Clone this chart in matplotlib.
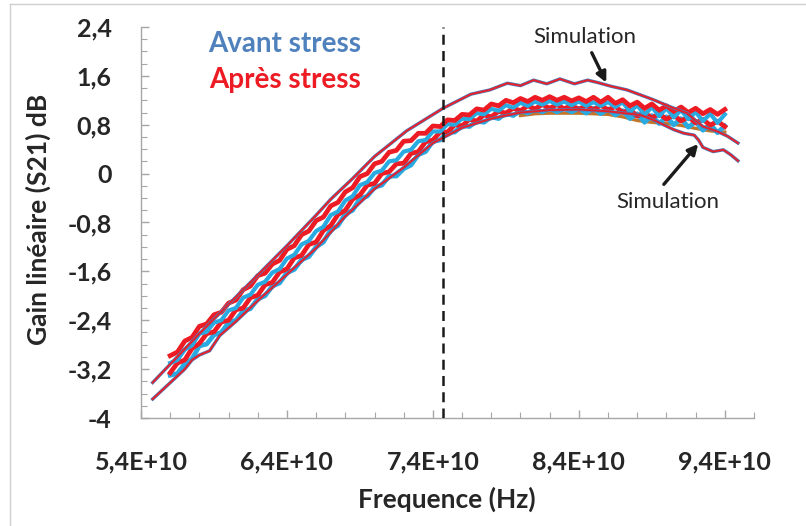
import numpy as np
import matplotlib
matplotlib.use("Agg")
import matplotlib.pyplot as plt
from matplotlib.ticker import MultipleLocator, FuncFormatter
from matplotlib.lines import Line2D

plt.rcParams['font.family'] = ['Lato', 'DejaVu Sans']

# Mesures (GHz*10 -> Hz), pas de 0.05E10
freq_mes = np.round(np.arange(5.60, 9.401, 0.05), 2) * 1e10

avant_1 = [-3.30, -3.27, -3.11, -3.03, -2.82, -2.79, -2.64, -2.60, -2.44, -2.40,
           -2.25, -2.21, -2.05, -2.00, -1.84, -1.79, -1.62, -1.57, -1.41, -1.36,
           -1.20, -1.12, -0.92, -0.85, -0.66, -0.60, -0.41, -0.37, -0.22, -0.19,
           -0.04, -0.04, 0.08, 0.14, 0.31, 0.36, 0.53, 0.55, 0.68, 0.68,
           0.79, 0.77, 0.86, 0.84, 0.93, 0.90, 0.99, 0.95, 1.03, 0.99,
           1.06, 1.01, 1.07, 1.01, 1.07, 1.01, 1.07, 0.99, 1.07, 0.98,
           1.06, 0.96, 1.03, 0.90, 0.98, 0.84, 0.95, 0.82, 0.93, 0.80,
           0.90, 0.76, 0.85, 0.71, 0.81, 0.67, 0.78]

avant_2 = [-3.10, -3.05, -2.88, -2.81, -2.62, -2.59, -2.44, -2.40, -2.24, -2.20,
           -2.03, -1.98, -1.82, -1.77, -1.62, -1.56, -1.39, -1.33, -1.16, -1.10,
           -0.94, -0.87, -0.68, -0.62, -0.44, -0.37, -0.19, -0.14, 0.01, 0.05,
           0.20, 0.22, 0.36, 0.39, 0.53, 0.55, 0.69, 0.69, 0.81, 0.80,
           0.90, 0.89, 0.99, 0.97, 1.06, 1.03, 1.12, 1.08, 1.16, 1.11,
           1.18, 1.13, 1.19, 1.13, 1.18, 1.12, 1.18, 1.11, 1.17, 1.11,
           1.17, 1.09, 1.17, 1.01, 1.12, 0.96, 1.09, 0.94, 1.07, 0.92,
           1.04, 0.89, 1.01, 0.86, 0.98, 0.83, 0.97]

apres_1 = [-3.26, -3.10, -3.05, -2.86, -2.78, -2.62, -2.59, -2.43, -2.40, -2.23,
           -2.20, -2.03, -1.99, -1.82, -1.78, -1.61, -1.56, -1.38, -1.34, -1.16,
           -1.12, -0.93, -0.85, -0.67, -0.60, -0.42, -0.35, -0.19, -0.16, 0.00,
           0.03, 0.16, 0.17, 0.33, 0.36, 0.52, 0.55, 0.68, 0.68, 0.80,
           0.78, 0.89, 0.86, 0.96, 0.93, 1.02, 0.99, 1.07, 1.03, 1.11,
           1.06, 1.13, 1.07, 1.13, 1.06, 1.12, 1.05, 1.12, 1.04, 1.12,
           1.04, 1.10, 1.00, 1.05, 0.94, 1.00, 0.91, 0.98, 0.89, 0.96,
           0.86, 0.93, 0.83, 0.89, 0.79, 0.86, 0.77]

apres_2 = [-2.98, -2.92, -2.74, -2.68, -2.50, -2.46, -2.31, -2.27, -2.12, -2.07,
           -1.90, -1.84, -1.67, -1.63, -1.48, -1.42, -1.24, -1.18, -1.00, -0.94,
           -0.77, -0.71, -0.53, -0.47, -0.30, -0.23, -0.05, 0.00, 0.16, 0.20,
           0.35, 0.38, 0.53, 0.54, 0.66, 0.66, 0.78, 0.77, 0.88, 0.87,
           0.97, 0.96, 1.06, 1.04, 1.14, 1.11, 1.20, 1.16, 1.23, 1.18,
           1.25, 1.20, 1.26, 1.20, 1.25, 1.19, 1.24, 1.18, 1.25, 1.17,
           1.25, 1.15, 1.21, 1.11, 1.17, 1.07, 1.14, 1.04, 1.11, 1.02,
           1.09, 1.00, 1.07, 0.98, 1.05, 0.97, 1.05]

freq_brun = [8.0e10, 8.1e10, 8.2e10, 8.3e10, 8.4e10, 8.5e10, 8.6e10, 8.7e10,
             8.8e10, 8.9e10, 9.0e10, 9.1e10, 9.2e10, 9.3e10, 9.4e10]
mesure_brun = [0.95, 0.98, 0.99, 0.99, 0.99, 0.98, 0.97, 0.93,
               0.87, 0.84, 0.82, 0.79, 0.74, 0.70, 0.68]

# Simulations
freq_sim_haut = [5.48e10, 5.60e10, 5.80e10, 6.00e10, 6.20e10, 6.40e10, 6.60e10, 6.70e10,
                 6.85e10, 7.00e10, 7.22e10, 7.47e10, 7.66e10, 7.79e10, 7.91e10, 8.00e10,
                 8.09e10, 8.18e10, 8.27e10, 8.37e10, 8.46e10, 8.53e10, 8.62e10, 8.73e10,
                 8.82e10, 8.91e10, 9.03e10, 9.14e10, 9.25e10, 9.35e10, 9.42e10, 9.49e10]
sim_haut = [-3.42, -3.12, -2.62, -2.14, -1.66, -1.18, -0.68, -0.42,
            -0.08, 0.28, 0.70, 1.07, 1.30, 1.37, 1.48, 1.44,
            1.53, 1.47, 1.55, 1.47, 1.53, 1.49, 1.43, 1.37,
            1.29, 1.21, 1.09, 0.99, 0.77, 0.69, 0.61, 0.50]

freq_sim_bas = [5.48e10, 5.70e10, 5.75e10, 5.80e10, 5.87e10, 5.94e10, 6.05e10, 6.20e10,
                6.40e10, 6.60e10, 6.80e10, 7.00e10, 7.20e10, 7.40e10, 7.60e10, 7.80e10,
                8.00e10, 8.20e10, 8.40e10, 8.60e10, 8.82e10, 8.91e10, 9.05e10, 9.12e10,
                9.19e10, 9.22e10, 9.25e10, 9.32e10, 9.39e10, 9.44e10, 9.49e10]
sim_bas = [-3.69, -3.20, -3.05, -2.97, -2.90, -2.65, -2.42, -2.08,
           -1.65, -1.22, -0.70, -0.25, 0.10, 0.50, 0.75, 0.90,
           1.00, 1.04, 1.05, 1.02, 0.96, 0.88, 0.72, 0.66,
           0.63, 0.55, 0.43, 0.36, 0.39, 0.31, 0.21]

freq_repere = 7.47e10

fig = plt.figure(figsize=(8.06, 5.26), dpi=100)
ax = fig.add_axes([0.1749, 0.2053, 0.7606, 0.7434])

cyan = '#29ABE2'
rouge = '#ED1C24'
ax.plot(freq_brun, mesure_brun, color='#C0762B', lw=2.4, zorder=2)
ax.plot(freq_mes, avant_1, color=cyan, lw=3.4, zorder=3)
ax.plot(freq_mes, apres_1, color=rouge, lw=3.4, zorder=4)
ax.plot(freq_mes, avant_2, color=cyan, lw=3.0, zorder=5)
ax.plot(freq_mes, apres_2, color=rouge, lw=3.4, zorder=6)

for f, s in [(freq_sim_haut, sim_haut), (freq_sim_bas, sim_bas)]:
    ax.plot(f, s, color='#4A7EBB', lw=2.4, zorder=7)
    ax.plot(f, s, color='#E8202A', lw=1.4, zorder=8)

ax.axvline(freq_repere, color='#1a1a1a', lw=1.8, ls=(0, (4, 2.5)), zorder=9)

ax.set_xlim(5.4e10, 9.6e10)
ax.set_ylim(-4, 2.4)
ax.xaxis.set_major_locator(MultipleLocator(1e10, offset=0.4e10))
ax.xaxis.set_minor_locator(MultipleLocator(0.2e10))
ax.yaxis.set_major_locator(MultipleLocator(0.8))
ax.yaxis.set_minor_locator(MultipleLocator(0.2))


def fmt_x(v, pos):
    return f"{v / 1e10:.1f}".replace('.', ',') + "E+10"


def fmt_y(v, pos):
    v = round(v, 1)
    if abs(v - round(v)) < 1e-9:
        return f"{int(round(v))}"
    return f"{v:.1f}".replace('.', ',')


ax.xaxis.set_major_formatter(FuncFormatter(fmt_x))
ax.yaxis.set_major_formatter(FuncFormatter(fmt_y))

for side in ['top', 'right']:
    ax.spines[side].set_visible(False)
for side in ['left', 'bottom']:
    ax.spines[side].set_color('#A6A6A6')
    ax.spines[side].set_linewidth(1.0)

ax.tick_params(which='major', direction='in', length=6, width=1, color='#A6A6A6',
               labelsize=18, labelcolor='#262626')
ax.tick_params(which='minor', direction='in', length=4, width=0.8, color='#A6A6A6')
ax.tick_params(axis='y', which='major', pad=21)
ax.tick_params(axis='x', which='major', pad=23)
for lab in ax.get_xticklabels() + ax.get_yticklabels():
    lab.set_fontweight('bold')

ax.set_xlabel("Frequence (Hz)", fontsize=19, fontweight='bold', color='#262626')
ax.set_ylabel("Gain linéaire (S21) dB", fontsize=19, fontweight='bold', color='#262626')
ax.xaxis.set_label_coords(0.499, -0.176)
ax.yaxis.set_label_coords(-0.147, 0.509)

ax.text(0.235, 0.9565, "Avant stress", transform=ax.transAxes, ha='center', va='center',
        fontsize=20, fontweight='bold', color='#4F81BD')
ax.text(0.235, 0.8645, "Après stress", transform=ax.transAxes, ha='center', va='center',
        fontsize=20, fontweight='bold', color=rouge)

fleche = dict(arrowstyle='-|>', color='#1a1a1a', lw=2.4, mutation_scale=15)
ax.annotate("", xy=(8.596e10, 1.45), xytext=(8.48e10, 2.02), arrowprops=fleche,
            annotation_clip=False)
ax.text(8.44e10, 2.24, "Simulation", ha='center', va='center', fontsize=16, color='#262626')
ax.annotate("", xy=(9.23e10, 0.52), xytext=(8.97e10, -0.21), arrowprops=fleche)
ax.text(9.01e10, -0.47, "Simulation", ha='center', va='center', fontsize=16, color='#262626')

# cadre gris de la zone graphique
fig.add_artist(Line2D([0.0124, 1.0], [0.9924, 0.9924], color='#D0D0D0', lw=1.0))
fig.add_artist(Line2D([0.0124, 0.0124], [0.0, 0.9924], color='#D0D0D0', lw=1.0))

fig.savefig("out.png", dpi=100)
